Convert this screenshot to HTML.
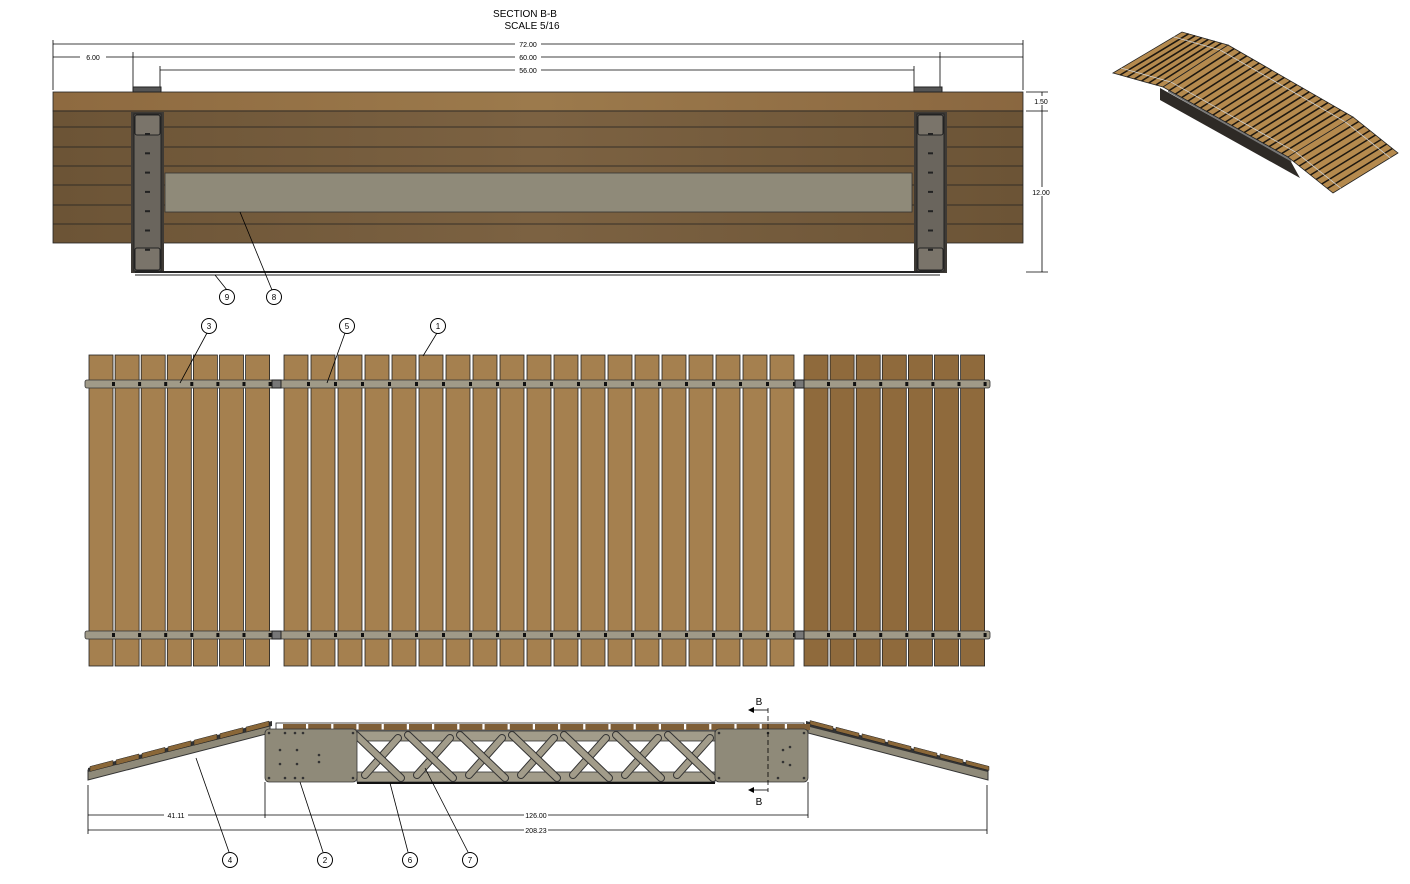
<!DOCTYPE html>
<html><head><meta charset="utf-8"><style>
html,body{margin:0;padding:0;background:#fff;width:1410px;height:884px;overflow:hidden}
svg text{font-family:"Liberation Sans",sans-serif}
</style></head><body>
<svg id="s" width="1410" height="884" viewBox="0 0 1410 884" xmlns="http://www.w3.org/2000/svg">
<defs>
<linearGradient id="wt" x1="0" x2="1"><stop offset="0" stop-color="#8e6a40"/><stop offset="0.5" stop-color="#9c7a4c"/><stop offset="1" stop-color="#8a6740"/></linearGradient>
<linearGradient id="wr" x1="0" x2="1"><stop offset="0" stop-color="#6c5436"/><stop offset="0.5" stop-color="#7c6242"/><stop offset="1" stop-color="#6c5436"/></linearGradient>
</defs>
<text x="525" y="17" font-size="10" text-anchor="middle">SECTION B-B</text>
<text x="532" y="29" font-size="10" text-anchor="middle">SCALE 5/16</text>
<g stroke="#000" stroke-width="0.8" fill="none">
<line x1="53" y1="40" x2="53" y2="90"/><line x1="1023" y1="40" x2="1023" y2="90"/>
<line x1="53" y1="44" x2="1023" y2="44"/>
<line x1="53" y1="57" x2="1023" y2="57"/>
<line x1="133" y1="52" x2="133" y2="88"/><line x1="940" y1="52" x2="940" y2="88"/>
<line x1="160" y1="66" x2="160" y2="88"/><line x1="914" y1="66" x2="914" y2="88"/>
<line x1="160" y1="70" x2="914" y2="70"/>
<line x1="1026" y1="92" x2="1048" y2="92"/><line x1="1026" y1="111" x2="1048" y2="111"/><line x1="1026" y1="272" x2="1048" y2="272"/>
<line x1="1042" y1="92" x2="1042" y2="272"/>
</g>
<g font-size="7" text-anchor="middle">
<rect x="515" y="39" width="26" height="9" fill="#fff"/><text x="528" y="47">72.00</text>
<rect x="515" y="52" width="26" height="9" fill="#fff"/><text x="528" y="60">60.00</text>
<rect x="515" y="65" width="26" height="9" fill="#fff"/><text x="528" y="73">56.00</text>
<rect x="80" y="52" width="26" height="9" fill="#fff"/><text x="93" y="60">6.00</text>
<rect x="1030" y="96" width="24" height="9" fill="#fff"/><text x="1041" y="104">1.50</text>
<rect x="1030" y="187" width="24" height="9" fill="#fff"/><text x="1041" y="195">12.00</text>
</g>
<rect x="53" y="92" width="970" height="19" fill="url(#wt)" stroke="#222" stroke-width="0.8"/>
<rect x="53" y="111" width="970" height="132" fill="url(#wr)" stroke="#222" stroke-width="0.8"/>
<g stroke="#222" stroke-width="0.8">
<line x1="53" y1="127" x2="1023" y2="127"/><line x1="53" y1="147" x2="1023" y2="147"/><line x1="53" y1="166" x2="1023" y2="166"/>
<line x1="53" y1="185" x2="165" y2="185"/><line x1="912" y1="185" x2="1023" y2="185"/>
<line x1="53" y1="205" x2="165" y2="205"/><line x1="912" y1="205" x2="1023" y2="205"/>
<line x1="53" y1="224" x2="1023" y2="224"/>
</g>
<rect x="165" y="173" width="747" height="39" fill="#8f8a79" stroke="#333" stroke-width="0.8"/>
<rect x="133" y="87" width="28" height="5" fill="#555" stroke="#222"/>
<rect x="914" y="87" width="28" height="5" fill="#555" stroke="#222"/>
<g id="posts"></g>
<line x1="135" y1="272" x2="940" y2="272" stroke="#222" stroke-width="2"/>
<line x1="135" y1="275" x2="940" y2="275" stroke="#222" stroke-width="1"/>
<g id="plan"></g>
<g id="side"></g>
<g stroke="#000" stroke-width="0.8" fill="none">
<line x1="215" y1="275" x2="227" y2="290"/><line x1="240" y1="212" x2="272" y2="290"/>
<line x1="180" y1="383" x2="207" y2="333"/><line x1="327" y1="383" x2="345" y2="333"/><line x1="423" y1="356" x2="437" y2="333"/>
<line x1="196" y1="758" x2="229" y2="852"/><line x1="300" y1="782" x2="323" y2="852"/>
<line x1="390" y1="783" x2="408" y2="852"/><line x1="425" y1="768" x2="468" y2="852"/>
</g>
<g stroke="#000" stroke-width="1" fill="#fff">
<circle cx="227" cy="297" r="7.5"/><circle cx="274" cy="297" r="7.5"/>
<circle cx="209" cy="326" r="7.5"/><circle cx="347" cy="326" r="7.5"/><circle cx="438" cy="326" r="7.5"/>
<circle cx="230" cy="860" r="7.5"/><circle cx="325" cy="860" r="7.5"/><circle cx="410" cy="860" r="7.5"/><circle cx="470" cy="860" r="7.5"/>
</g>
<g font-size="8" text-anchor="middle">
<text x="227" y="300">9</text><text x="274" y="300">8</text>
<text x="209" y="329">3</text><text x="347" y="329">5</text><text x="438" y="329">1</text>
<text x="230" y="863">4</text><text x="325" y="863">2</text><text x="410" y="863">6</text><text x="470" y="863">7</text>
</g>
<g stroke="#000" stroke-width="0.8">
<line x1="88" y1="785" x2="88" y2="834"/><line x1="987" y1="785" x2="987" y2="834"/>
<line x1="265" y1="782" x2="265" y2="818"/><line x1="808" y1="782" x2="808" y2="818"/>
<line x1="88" y1="815" x2="265" y2="815"/><line x1="265" y1="815" x2="808" y2="815"/>
<line x1="88" y1="830" x2="987" y2="830"/>
<line x1="768" y1="708" x2="768" y2="792" stroke-dasharray="5,3"/>
<line x1="752" y1="710" x2="768" y2="710"/><line x1="752" y1="790" x2="768" y2="790"/>
</g>
<polygon points="748,710 754,707 754,713" fill="#000"/><polygon points="748,790 754,787 754,793" fill="#000"/>
<g font-size="7" text-anchor="middle">
<rect x="164" y="811" width="24" height="8" fill="#fff"/><text x="176" y="818">41.11</text>
<rect x="524" y="811" width="24" height="8" fill="#fff"/><text x="536" y="818">126.00</text>
<rect x="524" y="826" width="24" height="8" fill="#fff"/><text x="536" y="833">208.23</text>
</g>
<text x="759" y="705" font-size="10" text-anchor="middle">B</text>
<text x="759" y="805" font-size="10" text-anchor="middle">B</text>
<g id="iso"></g>
</svg>
<script>
var NS="http://www.w3.org/2000/svg";
function el(p,t,a){var e=document.createElementNS(NS,t);for(var k in a)e.setAttribute(k,a[k]);p.appendChild(e);return e;}
var po=document.getElementById('posts');
[131,914].forEach(function(x){
 el(po,'rect',{x:x,y:112,width:33,height:161,fill:'#3e3a35'});
 el(po,'rect',{x:x+3,y:114,width:27,height:157,fill:'#6a655d',stroke:'#222'});
 el(po,'rect',{x:x+4,y:115,width:25,height:20,fill:'#7a746a',stroke:'#222',rx:2});
 el(po,'rect',{x:x+4,y:248,width:25,height:22,fill:'#7a746a',stroke:'#222',rx:2});
 for(var i=0;i<7;i++) el(po,'rect',{x:x+14,y:133+i*19.3,width:5,height:2,fill:'#222'});
});
var pl=document.getElementById('plan');
var xs=[];
function planks(x0,n,p,c){for(var i=0;i<n;i++){xs.push(x0+i*p);el(pl,'rect',{x:x0+i*p,y:355,width:24,height:311,fill:c,stroke:'#222','stroke-width':0.8});}}
planks(89,7,26.1,'#a5804f');
planks(284,19,27,'#a5804f');
planks(804,7,26.1,'#8f6a3c');
[384,635].forEach(function(y){
 el(pl,'rect',{x:85,y:y-4,width:905,height:8,fill:'#a09a88',stroke:'#333','stroke-width':0.8,rx:2});
 xs.forEach(function(x){if(x+24<985)el(pl,'rect',{x:x+23,y:y-2,width:3,height:4,fill:'#111'});});
 el(pl,'rect',{x:272,y:y-4,width:9,height:8,fill:'#777',stroke:'#222'});
 el(pl,'rect',{x:795,y:y-4,width:9,height:8,fill:'#777',stroke:'#222'});
});
var sd=document.getElementById('side');
el(sd,'polygon',{points:'88,770 270,724 270,733 88,780',fill:'#8f8a79',stroke:'#333'});
el(sd,'polygon',{points:'88,768 272,721 272,726 88,772',fill:'#333'});
for(var i=0;i<7;i++){var x=90+i*26;var y=770-(x-88)*46/182;el(sd,'polygon',{points:(x)+','+(y-3)+' '+(x+23)+','+(y-9)+' '+(x+23)+','+(y-4)+' '+x+','+(y+2),fill:'#8a6738',stroke:'#222','stroke-width':0.5});}
el(sd,'polygon',{points:'808,724 988,770 988,780 808,733',fill:'#8f8a79',stroke:'#333'});
el(sd,'polygon',{points:'806,721 988,768 988,772 806,726',fill:'#333'});
for(var i=0;i<7;i++){var x=810+i*26;var y=724+(x-808)*46/180;el(sd,'polygon',{points:x+','+(y-4)+' '+(x+23)+','+(y+2)+' '+(x+23)+','+(y+6)+' '+x+','+y,fill:'#8a6738',stroke:'#222','stroke-width':0.5});}
el(sd,'rect',{x:276,y:723,width:528,height:7,fill:'#fff',stroke:'#222','stroke-width':0.8});
for(var i=0;i<21;i++)el(sd,'rect',{x:283+i*25.2,y:724,width:23,height:6,fill:'#7f5f38'});
el(sd,'rect',{x:357,y:731,width:358,height:10,fill:'#a29c8a',stroke:'#333','stroke-width':0.8});
el(sd,'rect',{x:357,y:772,width:358,height:10,fill:'#a29c8a',stroke:'#333','stroke-width':0.8});
el(sd,'line',{x1:357,y1:783,x2:715,y2:783,stroke:'#111','stroke-width':2});
for(var i=0;i<7;i++){var x=353+i*52;
 el(sd,'line',{x1:x+45,y1:738,x2:x+12,y2:775,stroke:'#333','stroke-width':8,'stroke-linecap':'round'});
 el(sd,'line',{x1:x+45,y1:738,x2:x+12,y2:775,stroke:'#a29c8a','stroke-width':6,'stroke-linecap':'round'});
}
for(var i=0;i<7;i++){var x=353+i*52;
 el(sd,'line',{x1:x+3,y1:735,x2:x+48,y2:778,stroke:'#333','stroke-width':8,'stroke-linecap':'round'});
 el(sd,'line',{x1:x+3,y1:735,x2:x+48,y2:778,stroke:'#a29c8a','stroke-width':6,'stroke-linecap':'round'});
}
el(sd,'rect',{x:265,y:729,width:92,height:53,fill:'#8f8a79',stroke:'#333','stroke-width':0.8,rx:4});
el(sd,'rect',{x:715,y:729,width:93,height:53,fill:'#8f8a79',stroke:'#333','stroke-width':0.8,rx:4});
[[269,733],[285,733],[295,733],[303,733],[269,778],[285,778],[295,778],[303,778],[353,733],[353,778],[280,750],[297,750],[319,755],[280,764],[297,764],[319,762],[719,733],[719,778],[804,733],[804,778],[790,747],[790,765],[783,750],[783,762],[768,733],[778,778]].forEach(function(p){el(sd,'circle',{cx:p[0],cy:p[1],r:1.3,fill:'#333'});});
// iso
var is=document.getElementById('iso');
el(is,'polygon',{points:'1160,88 1290,160 1300,178 1160,100',fill:'#2e2a26'});
el(is,'polygon',{points:'1168,88 1290,158 1292,162 1168,92',fill:'#777'});
var segs=[
 [[1113,73],[1182,32],[1228,45],[1163,87],7],
 [[1163,87],[1228,45],[1353,117],[1288,157],20],
 [[1288,157],[1353,117],[1398,153],[1333,193],8]];
segs.forEach(function(s){
 el(is,'polygon',{points:[s[0],s[1],s[2],s[3]].map(function(p){return p.join(',');}).join(' '),fill:'#b58a4e',stroke:'#222','stroke-width':0.8});
 for(var i=1;i<s[4];i++){var t=i/s[4];
  var ax=s[0][0]+(s[3][0]-s[0][0])*t,ay=s[0][1]+(s[3][1]-s[0][1])*t;
  var bx=s[1][0]+(s[2][0]-s[1][0])*t,by=s[1][1]+(s[2][1]-s[1][1])*t;
  el(is,'line',{x1:ax,y1:ay,x2:bx,y2:by,stroke:'#1e1810','stroke-width':1.6});}
 // rails
 [0.12,0.88].forEach(function(u){
  var ax=s[0][0]+(s[1][0]-s[0][0])*u,ay=s[0][1]+(s[1][1]-s[0][1])*u;
  var bx=s[3][0]+(s[2][0]-s[3][0])*u,by=s[3][1]+(s[2][1]-s[3][1])*u;
  el(is,'line',{x1:ax,y1:ay,x2:bx,y2:by,stroke:'#ccc','stroke-width':0.8});});
});
</script>
</body></html>
